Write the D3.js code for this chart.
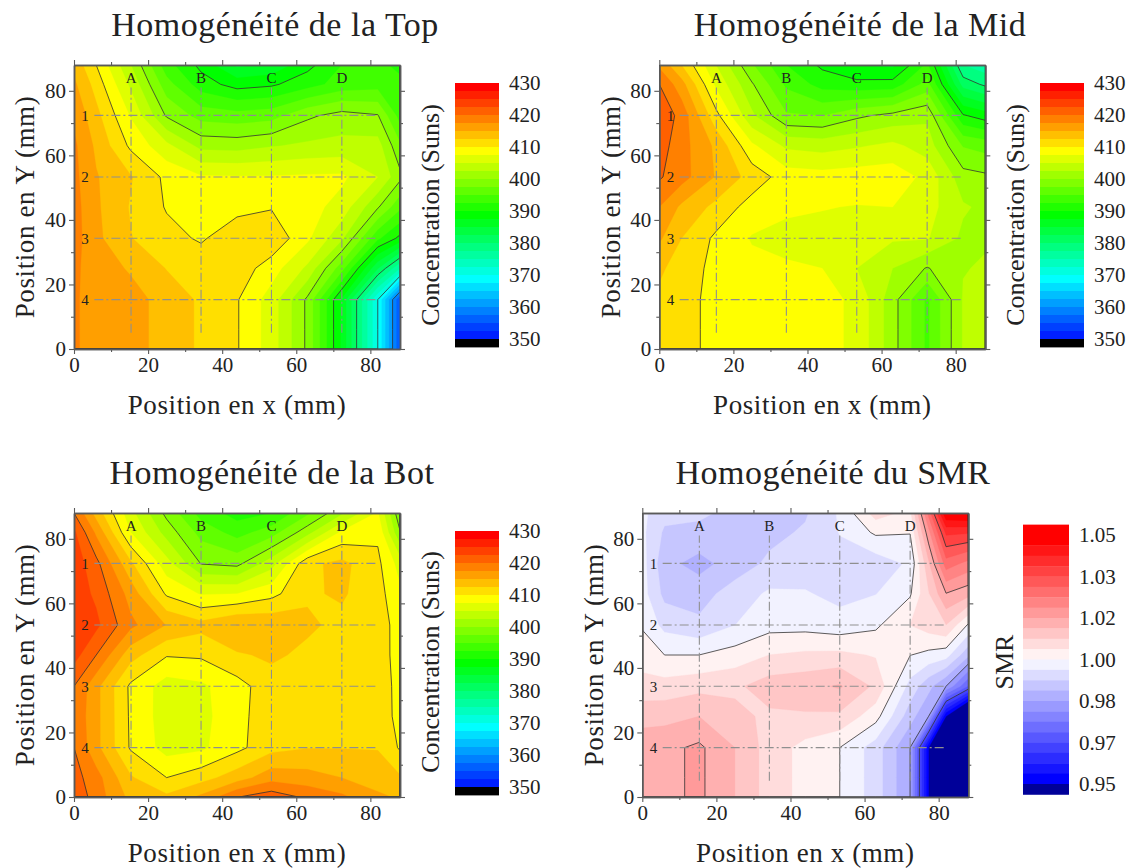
<!DOCTYPE html>
<html><head><meta charset="utf-8">
<script src="https://cdn.jsdelivr.net/npm/d3@7/dist/d3.min.js"></script>
<style>html,body{margin:0;padding:0;background:#fff}svg{display:block}text{font-family:"Liberation Serif",serif;fill:#222}</style>
</head><body><svg id="c" width="1131" height="868"></svg>
<script>
const gridX=[0,6,15.3,25,34.3,44,53.3,63,72.3,82,88];
const smrGridX=[0,6,15.3,25,34.3,44,53.3,63,72.3,77.3,82,88];
const gridY=[0,6,15.3,25,34.3,44,53.3,63,72.3,82,88];
const topRowLow=[417.6,417.2,416,414,412.1,410.2,406.3,399.5,387,370,355];
const topValues=[topRowLow,topRowLow,topRowLow,
[418,416.3,414.7,412.4,411.5,411.5,408.7,404.5,396,382.7,375],
[418.6,415.6,412.6,410.8,409.7,411.5,412,408,403,393,389.3],
[418.5,415.4,412.3,409.8,408.5,409.3,409.8,408.5,406.5,400.3,395.6],
[418.2,415.2,412.7,409.4,407.8,407.7,407.7,407.9,408,405,400.7],
[418,414.5,409.5,405.7,401.7,401.5,402.3,403,403.3,403.5,398],
[417,413.3,407.3,399.7,396.5,396,396.5,399.5,401,400.2,394],
[415.5,411.5,404.5,396,391.2,389,389.6,391.5,393.5,394,393],
[414.2,410,402.6,393.5,389.3,384.5,385.5,389.2,392.5,393,392]];
const midRowLow=[412,411.2,409,408.5,408.3,408.3,407,401,394.5,402.7,403.3];
const midValues=[midRowLow,midRowLow,midRowLow,
[412.9,411.5,409.2,408.2,407.8,407.5,405,402.5,399.8,402.4,402.7],
[415.4,412.5,409.5,407.3,406.8,406.8,406.5,405.3,405.2,402,402.3],
[417.5,414.5,411.8,408.9,407.9,407.6,407.4,407.5,406,402.8,402],
[420.3,418.5,414.8,411.5,408.8,408.5,408.8,409,406.8,401,400.5],
[421.2,418.5,414.5,408,404.5,404,404.7,405.6,403.8,397.3,396.5],
[422,419.1,410.8,403,397.8,397.5,399.5,400.8,402,390.3,388.8],
[420,416,407,400.3,394.5,391.5,390.8,391,396,381.5,379.5],
[417,412.5,405,397.8,392.5,389.5,387.5,387,393,377.5,376]];
const botValues=[
[422,418.8,414.3,413,415.5,419.9,421.5,419.5,418,415.6,414.6],
[421,418.5,412.8,410,411.5,413.8,416.5,416,415,413.5,412.8],
[420,415.7,409.7,406.5,407,409.3,411.7,412.4,412.4,412.4,409.7],
[419.5,415.7,409.6,406.2,406.7,409.2,411.5,412.2,412.3,412.2,408.8],
[420,415.7,409.5,406.3,407,409,411.5,412.2,412.4,412,408.8],
[423.5,420,413.5,410.2,410.4,412.2,412.9,412,412,411.8,408.5],
[424,423.1,418.1,414.9,413.3,415.05,414.5,412.9,411.9,411.3,408.9],
[424,422,416.5,409.6,407.3,407.5,409.2,412.2,412.8,411,408],
[424,420.8,413,406,399.9,399.3,404,411.9,413.2,410.6,406.5],
[423,417,407.5,401.5,396.6,394,396.3,401.5,408,409.5,400.2],
[420,414,405.8,399.3,394,391.5,392.5,397,402,407.8,398]];
const smrRowLow=[1.0145,1.0155,1.0175,1.0125,1.0065,1.0028,1.0,.9938,.9833,.95,.92,.915];
const smrValues=[smrRowLow,smrRowLow,smrRowLow,
[1.0113,1.0112,1.0125,1.0095,1.0075,1.0078,1.0075,1.0016,.9893,.9833,.95,.93],
[1.0055,1.0058,1.0070,1.0075,1.0105,1.0112,1.013,1.0075,.9943,.9888,.9833,.9705],
[1.0025,1.0,1.0,1.0018,1.0042,1.0050,1.0052,1.0038,1.0001,.9988,.9975,.9885],
[.9995,.9945,.9925,.9958,.9985,.9985,.9975,.9992,1.0042,1.0062,1.0083,.9995],
[.9975,.9905,.9900,.9935,.9965,.9962,.9946,.9957,.9995,1.0080,1.0165,1.0140],
[.9975,.9888,.9860,.9895,.9925,.9935,.9945,.9935,.9965,1.0118,1.0272,1.0235],
[.9968,.9910,.9905,.9900,.9905,.9922,.9960,1.0007,1.0002,1.0195,1.0385,1.0380],
[.9968,.9930,.9925,.9905,.9900,.9912,.9964,1.0060,1.0030,1.0265,1.0500,1.0510]];
const axisTicks=[0,20,40,60,80];
const axisMinor=[10,30,50,70];
const markX=[15.4,34.3,53.3,72.3];
const markXLabels=["A","B","C","D"];
const markY=[72.4,53.3,34.3,15.3];
const markYLabels=["1","2","3","4"];
const sunsTicks=[350,360,370,380,390,400,410,420,430];
const smrTicks=[.95,.96667,.98333,1,1.01667,1.03333,1.05];
const smrTickLabels=["0.95","0.97","0.98","1.00","1.02","1.03","1.05"];
const sunsLines=[360,370,380,390,400,410,420];
const smrLines=[.96667,.98333,1,1.01667,1.03333];

const svg=d3.select("#c");
const rainbow=d3.scaleLinear().domain([0,8,16,24,32]).range(["#ff0000","#ffff00","#00ff00","#00ffff","#0000ff"]);
const sunsBands=d3.range(33).map(i=>{const hi=430-i*2.5;return {lo:i===32?340:hi-2.5,hi:hi,barLo:hi-2.5,color:i===32?"#000":rainbow(i)};});
const smrW=.05/12;
const redRamp=d3.scaleLinear().domain([1,12]).range(["#ff0000","#fff2f2"]);
const blueRamp=d3.scaleLinear().domain([13,24]).range(["#f2f2ff","#0000ff"]);
const smrBands=d3.range(26).map(i=>{const hi=1.05-(i-1)*smrW;
  return {lo:i===25?.9:hi-smrW,hi:i===0?1.07:hi,barLo:hi-smrW,barHi:hi,color:i<=1?"#ff0000":i<=12?redRamp(i):i<=24?blueRamp(i):"#000099"};});

function panel(o){
  const g=svg.append("g");
  const nodesX=o.gridX||gridX;
  const x=d3.scaleLinear([0,88],[o.x0,o.x0+326]);
  const y=d3.scaleLinear([0,88],[o.y0+284,o.y0]);
  const gx=d3.scaleLinear().domain(nodesX.map((_,i)=>i+.5)).range(nodesX).clamp(true);
  const gy=d3.scaleLinear().domain(gridY.map((_,i)=>i+.5)).range(gridY).clamp(true);
  const path=d3.geoPath(d3.geoTransform({point(a,b){this.stream.point(x(gx(a)),y(gy(b)));}}));
  const values=o.values.flat();
  const cid="clip"+o.id;
  g.append("clipPath").attr("id",cid).append("rect").attr("x",x(0)).attr("y",y(88)).attr("width",x(88)-x(0)).attr("height",y(0)-y(88));
  const bands=o.bands.slice().sort((a,b)=>a.lo-b.lo);
  const plot=g.append("g").attr("clip-path",`url(#${cid})`);
  const contours=d3.contours().size([nodesX.length,gridY.length]).smooth(true);
  plot.append("rect").attr("x",x(0)).attr("y",y(88)).attr("width",x(88)-x(0)).attr("height",y(0)-y(88)).attr("fill",bands[0].color);
  bands.forEach(b=>{
    const c=contours.contour(values,b.lo);
    plot.append("path").attr("d",path(c)).attr("fill",b.color).attr("stroke",b.color).attr("stroke-width",.3).attr("fill-rule","evenodd");
  });
  o.lines.forEach(t=>{
    plot.append("path").attr("d",path(contours.contour(values,t))).attr("fill","none").attr("stroke","#333").attr("stroke-width",1).attr("stroke-opacity",.8);
  });
  const guide=g.append("g").attr("stroke","#8f8f8f").attr("stroke-width",1.1).attr("stroke-dasharray","9 3 2 3").attr("fill","none");
  markX.forEach(m=>guide.append("line").attr("x1",x(m)).attr("x2",x(m)).attr("y1",y(5)).attr("y2",y(81)));
  markY.forEach(m=>guide.append("line").attr("x1",x(5.5)).attr("x2",x(82)).attr("y1",y(m)).attr("y2",y(m)));
  markX.forEach((m,i)=>g.append("text").attr("x",x(m)).attr("y",y(84)).attr("dy",".35em").attr("text-anchor","middle").attr("font-size",15).text(markXLabels[i]));
  markY.forEach((m,i)=>g.append("text").attr("x",x(3)).attr("y",y(m)).attr("dy",".35em").attr("text-anchor","middle").attr("font-size",15).text(markYLabels[i]));
  const frame="#5a5a5a";
  const ax=(gen,tx,ty,showLabels,vals,size)=>{
    const a=g.append("g").attr("transform",`translate(${tx},${ty})`).call(gen.tickValues(vals).tickSize(size).tickSizeOuter(0));
    a.selectAll("path").attr("stroke",frame).attr("stroke-width",1.5);
    a.selectAll("line").attr("stroke",frame).attr("stroke-width",1.1);
    a.selectAll("text").attr("font-size",21).style("font-family","'Liberation Serif',serif").attr("fill","#222");
    if(!showLabels)a.selectAll("text").remove();
    return a;
  };
  [[axisTicks,5],[axisMinor,3]].forEach(([v,s],k)=>{
    ax(d3.axisBottom(x).tickPadding(3),0,y(0),k===0,v,s);
    ax(d3.axisLeft(y).tickPadding(3),x(0),0,k===0,v,s);
    ax(d3.axisTop(x),0,y(88),false,v,s);
    ax(d3.axisRight(y),x(88),0,false,v,s);
  });
  g.append("text").attr("x",o.titleX).attr("y",o.y0-41).attr("dy",".35em").attr("text-anchor","middle").attr("font-size",34).attr("letter-spacing",.5).text(o.title);
  g.append("text").attr("x",(x(0)+x(88))/2).attr("y",o.y0+340).attr("dy",".35em").attr("text-anchor","middle").attr("font-size",27).attr("letter-spacing",.6).text("Position en x (mm)");
  g.append("text").attr("transform",`translate(${o.x0-49},${o.y0+142}) rotate(-90)`).attr("dy",".35em").attr("text-anchor","middle").attr("font-size",27).attr("letter-spacing",.6).text("Position en Y (mm)");
  const cb=d3.scaleLinear(o.barDomain,o.barRange);
  const cg=g.append("g");
  o.bands.forEach(b=>{
    const hi=b.barHi!==undefined?b.barHi:b.hi, lo=b.barLo;
    cg.append("rect").attr("x",o.barX).attr("width",o.barW).attr("y",cb(hi)).attr("height",cb(lo)-cb(hi)+.4).attr("fill",b.color);
  });
  const ca=cg.append("g").attr("transform",`translate(${o.barX+o.barW},0)`).call(d3.axisRight(cb).tickValues(o.ticks).tickFormat((d,i)=>o.tickLabels[i]).tickSize(0).tickPadding(10));
  ca.select("path").remove();
  ca.selectAll("text").attr("font-size",21).style("font-family","'Liberation Serif',serif").attr("fill","#222");
  g.append("text").attr("transform",`translate(${o.barTitleX},${o.barTitleY}) rotate(-90)`).attr("dy",".35em").attr("text-anchor","middle").attr("font-size",26).text(o.barTitle);
}
const sunsLabels=sunsTicks.map(String);
panel({id:1,x0:74,y0:65,values:topValues,bands:sunsBands,lines:sunsLines,title:"Homogénéité de la Top",titleX:275,barX:455,barW:44,barDomain:[350,430],barRange:[339,83],ticks:sunsTicks,tickLabels:sunsLabels,barTitle:"Concentration (Suns)",barTitleX:430,barTitleY:215});
panel({id:2,x0:659.3,y0:65,values:midValues,bands:sunsBands,lines:sunsLines,title:"Homogénéité de la Mid",titleX:860,barX:1040,barW:44,barDomain:[350,430],barRange:[339,83],ticks:sunsTicks,tickLabels:sunsLabels,barTitle:"Concentration (Suns)",barTitleX:1015,barTitleY:215});
panel({id:3,x0:74,y0:513,values:botValues,bands:sunsBands,lines:sunsLines,title:"Homogénéité de la Bot",titleX:272,barX:455,barW:44,barDomain:[350,430],barRange:[787,531],ticks:sunsTicks,tickLabels:sunsLabels,barTitle:"Concentration (Suns)",barTitleX:430,barTitleY:662});
panel({id:4,x0:642.3,y0:513,gridX:smrGridX,values:smrValues,bands:smrBands,lines:smrLines,title:"Homogénéité du SMR",titleX:833,barX:1023,barW:46,barDomain:[.95,1.05],barRange:[784,535],ticks:smrTicks,tickLabels:smrTickLabels,barTitle:"SMR",barTitleX:1004,barTitleY:662});
</script></body></html>
